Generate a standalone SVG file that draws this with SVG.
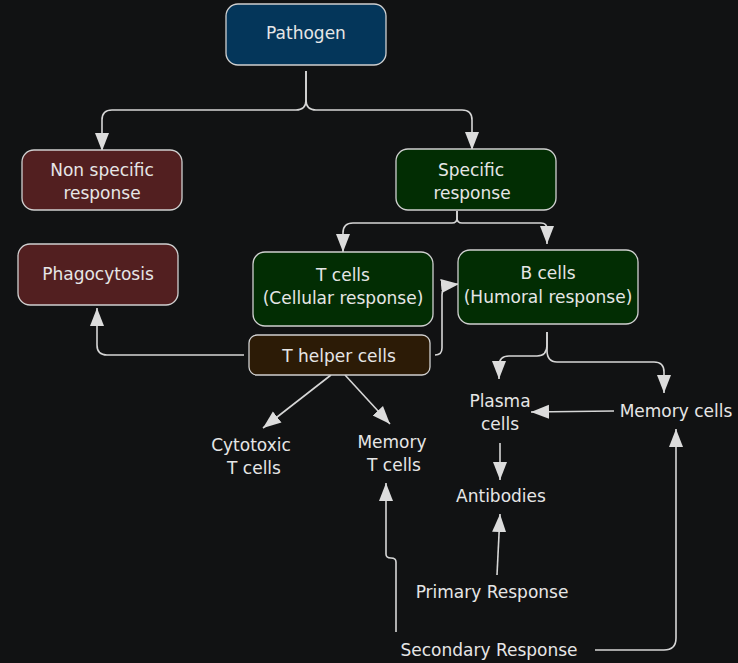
<svg xmlns="http://www.w3.org/2000/svg" width="738" height="663" viewBox="0 0 738 663">
<defs>
<marker id="ah" markerUnits="userSpaceOnUse" markerWidth="20" markerHeight="16" refX="18" refY="8" orient="auto">
<path d="M0,1 L18,8 L0,15 z" fill="#dcdcdc"/>
</marker>
<style>
.bg{fill:#111213}
.box{stroke:#d0d0d0;stroke-width:1.3}
.t{font-family:"DejaVu Sans","Noto Sans",sans-serif;font-size:17px;fill:#e6e6e6;text-anchor:middle;dominant-baseline:central}
.c{fill:none;stroke:#d6d6d6;stroke-width:1.6;marker-end:url(#ah)}
</style>
</defs>
<rect class="bg" x="0" y="0" width="738" height="663"/>
<g id="connectors">
<path class="c" d="M306,71 V100 Q306,110 296,110 H112 Q102,110 102,120 V151"/>
<path class="c" d="M306,71 V100 Q306,110 316,110 H462 Q472,110 472,120 V150"/>
<path class="c" d="M457,211 V218 Q457,223 452,223 H353 Q343,223 343,233 V252"/>
<path class="c" d="M457,211 V218 Q457,223 462,223 H541 Q547,223 547,229 V244"/>
<path class="c" d="M244,355 H107 Q97,355 97,345 V308"/>
<path class="c" d="M435,355 Q442,355 442,348 V295 Q442,286 450,285 L459,284"/>
<path class="c" d="M331,375 L263,428"/>
<path class="c" d="M345,375 L390,424"/>
<path class="c" d="M547,332 V345 Q547,356 537,356 H509 Q499,356 499,366 V379"/>
<path class="c" d="M547,332 V350 Q547,362 557,362 H654 Q664,362 664,372 V393"/>
<path class="c" d="M614,411 L531,412"/>
<path class="c" d="M500,443 L500,480"/>
<path class="c" d="M497,575 L500,514"/>
<path class="c" d="M396,632 V562 Q396,558 391,558 Q386,558 386,554 V483"/>
<path class="c" d="M595,650 H664 Q676,650 676,638 V429"/>
</g>
<g id="pathogen">
<rect class="box" x="226" y="4" width="160" height="61" rx="12" fill="#04365a"/>
<text class="t" x="306" y="33">Pathogen</text>
</g>
<g id="nonspecific">
<rect class="box" x="22" y="150" width="160" height="60" rx="12" fill="#521f20"/>
<text class="t" x="102" y="170">Non specific</text>
<text class="t" x="102" y="193">response</text>
</g>
<g id="specific">
<rect class="box" x="396" y="149" width="160" height="61" rx="12" fill="#022d03"/>
<text class="t" x="471" y="170">Specific</text>
<text class="t" x="472" y="193">response</text>
</g>
<g id="phagocytosis">
<rect class="box" x="18" y="244" width="160" height="61" rx="12" fill="#521f20"/>
<text class="t" x="98" y="274">Phagocytosis</text>
</g>
<g id="tcells">
<rect class="box" x="253" y="252" width="180" height="74" rx="12" fill="#022d03"/>
<text class="t" x="343" y="275">T cells</text>
<text class="t" x="343" y="298">(Cellular response)</text>
</g>
<g id="bcells">
<rect class="box" x="458" y="250" width="180" height="74" rx="12" fill="#022d03"/>
<text class="t" x="548" y="273">B cells</text>
<text class="t" x="548" y="297">(Humoral response)</text>
</g>
<g id="thelper">
<rect class="box" x="249" y="335" width="181" height="40" rx="8" fill="#2c1b06"/>
<text class="t" x="339" y="356">T helper cells</text>
</g>
<g id="cytotoxic">
<text class="t" x="251" y="445">Cytotoxic</text>
<text class="t" x="254" y="468">T cells</text>
</g>
<g id="memoryt">
<text class="t" x="392" y="442">Memory</text>
<text class="t" x="394" y="465">T cells</text>
</g>
<g id="plasma">
<text class="t" x="500" y="401">Plasma</text>
<text class="t" x="500" y="424">cells</text>
</g>
<g id="memorycells">
<text class="t" x="676" y="411">Memory cells</text>
</g>
<g id="antibodies">
<text class="t" x="501" y="496">Antibodies</text>
</g>
<g id="primary">
<text class="t" x="492" y="592">Primary Response</text>
</g>
<g id="secondary">
<text class="t" x="489" y="650">Secondary Response</text>
</g>
</svg>
